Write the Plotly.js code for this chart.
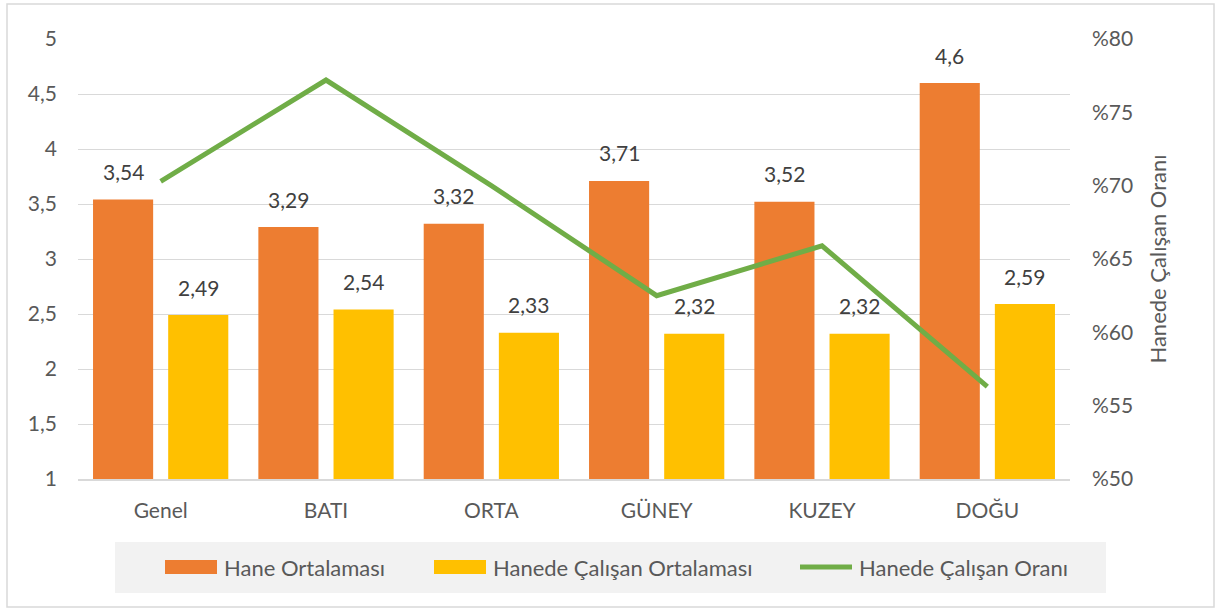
<!DOCTYPE html>
<html>
<head>
<meta charset="utf-8">
<script src="https://cdn.plot.ly/plotly-3.0.1.min.js"></script>
<style>html,body{margin:0;padding:0;background:#fff;}#chart{width:1217px;height:610px;}</style>
</head>
<body>
<div id="chart"></div>
<script>
const categories = ["Genel", "BATI", "ORTA", "GÜNEY", "KUZEY", "DOĞU"];
const haneOrtalamasi = [3.54, 3.29, 3.32, 3.71, 3.52, 4.6];
const calisanOrtalamasi = [2.49, 2.54, 2.33, 2.32, 2.32, 2.59];
const calisanOrani = [70.3, 77.2, 70.0, 62.5, 65.9, 56.3];
const leftTicks = [1, 1.5, 2, 2.5, 3, 3.5, 4, 4.5, 5];
const rightTicks = [50, 55, 60, 65, 70, 75, 80];
const seriesNames = ["Hane Ortalaması", "Hanede Çalışan Ortalaması", "Hanede Çalışan Oranı"];
const seriesColors = ["#ED7D31", "#FFC000", "#70AD47"];

const FONT = "Lato, 'Open Sans', sans-serif";
const TXT = '#595959';
const fmt = v => String(v).replace('.', ',');

// plot area in pixels
const L = 78, R = 1070, T = 39, B = 479;
const px = x => (x - L) / (R - L);
const py = y => (B - y) / (B - T);

const traces = [
  {type:'bar', name:seriesNames[0], x:categories, y:haneOrtalamasi,
   marker:{color:seriesColors[0]}, hoverinfo:'none', showlegend:false},
  {type:'bar', name:seriesNames[1], x:categories, y:calisanOrtalamasi,
   marker:{color:seriesColors[1]}, hoverinfo:'none', showlegend:false},
  {type:'scatter', mode:'lines', name:seriesNames[2], x:categories, y:calisanOrani,
   yaxis:'y2', line:{color:seriesColors[2], width:5}, hoverinfo:'none', showlegend:false}
];

const annotations = [];
categories.forEach((c, i) => {
  annotations.push({x:c, y:haneOrtalamasi[i], xref:'x', yref:'y', text:fmt(haneOrtalamasi[i]),
    showarrow:false, xshift:-37.5, yshift:28, font:{family:FONT, size:21, color:'#404040'}});
  annotations.push({x:c, y:calisanOrtalamasi[i], xref:'x', yref:'y', text:fmt(calisanOrtalamasi[i]),
    showarrow:false, xshift:37.5, yshift:28, font:{family:FONT, size:21, color:'#404040'}});
});
// legend texts
const legTextX = [222, 491, 857];
seriesNames.forEach((n, i) => {
  annotations.push({x:px(legTextX[i]), y:py(567), xref:'paper', yref:'paper', text:n,
    xanchor:'left', yanchor:'middle', showarrow:false, font:{family:FONT, size:22, color:TXT}});
});

const shapes = [
  {type:'rect', xref:'paper', yref:'paper', x0:px(7), x1:px(1214), y0:py(607), y1:py(4),
   line:{color:'#D9D9D9', width:1.5}, fillcolor:'rgba(0,0,0,0)', layer:'below'},
  {type:'rect', xref:'paper', yref:'paper', x0:px(115), x1:px(1106), y0:py(593), y1:py(542),
   line:{width:0}, fillcolor:'#F2F2F2', layer:'below'},
  {type:'rect', xref:'paper', yref:'paper', x0:px(165), x1:px(217), y0:py(574), y1:py(560),
   line:{width:0}, fillcolor:seriesColors[0]},
  {type:'rect', xref:'paper', yref:'paper', x0:px(434), x1:px(486), y0:py(574), y1:py(560),
   line:{width:0}, fillcolor:seriesColors[1]},
  {type:'line', xref:'paper', yref:'paper', x0:px(800), x1:px(852), y0:py(567), y1:py(567),
   line:{color:seriesColors[2], width:5}}
];

const layout = {
  width:1217, height:610,
  margin:{l:L, r:1217 - R, t:T, b:610 - B},
  paper_bgcolor:'#fff', plot_bgcolor:'#fff',
  separators:',.',
  font:{family:FONT, size:21, color:TXT},
  barmode:'group', bargap:0.0909, bargroupgap:0.2,
  showlegend:false,
  xaxis:{type:'category', showgrid:false, showline:true, linecolor:'#D9D9D9', linewidth:1.5,
    ticks:'', ticklabelstandoff:12, tickfont:{family:FONT, size:21, color:TXT}, fixedrange:true},
  yaxis:{range:[1,5], tickvals:leftTicks, ticktext:leftTicks.map(fmt), showgrid:true, gridcolor:'#D9D9D9',
    gridwidth:1, zeroline:false, showline:false, ticks:'', ticklabelstandoff:20,
    tickfont:{family:FONT, size:21, color:TXT}, fixedrange:true},
  yaxis2:{overlaying:'y', side:'right', range:[50,80], tickvals:rightTicks,
    ticktext:rightTicks.map(v => '%' + v), showgrid:false, zeroline:false, showline:false, ticks:'',
    ticklabelstandoff:21, tickfont:{family:FONT, size:21, color:TXT},
    title:{text:'Hanede Çalışan Oranı', standoff:18, font:{family:FONT, size:22, color:TXT}},
    fixedrange:true},
  shapes:shapes,
  annotations:annotations
};

Plotly.newPlot('chart', traces, layout, {displayModeBar:false, staticPlot:true});
</script>
</body>
</html>
